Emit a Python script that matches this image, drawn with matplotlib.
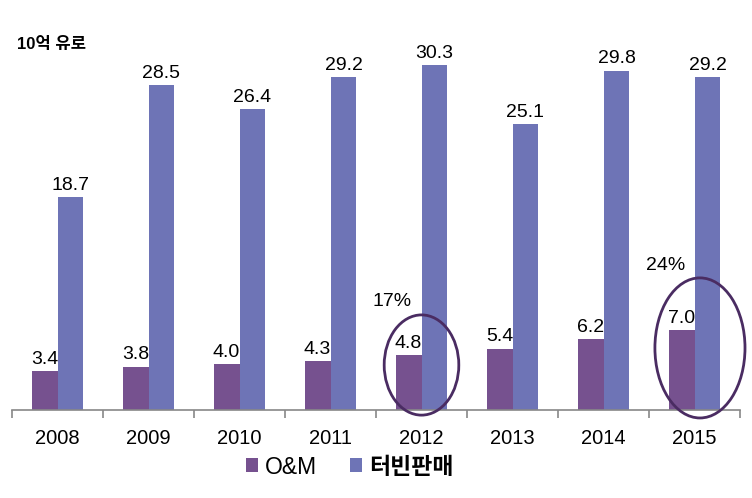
import matplotlib.pyplot as plt
import numpy as np
from matplotlib.patches import Ellipse

years = ['2008', '2009', '2010', '2011', '2012', '2013', '2014', '2015']
om = [3.4, 3.8, 4.0, 4.3, 4.8, 5.4, 6.2, 7.0]
turbine = [18.7, 28.5, 26.4, 29.2, 30.3, 25.1, 29.8, 29.2]
share_labels = ['17%', '24%']
share_idx = [4, 7]

plt.rcParams['font.family'] = ['Liberation Sans', 'Noto Sans CJK KR', 'DejaVu Sans']

om_color = '#76518F'
turb_color = '#6E74B6'
ring_color = '#4A2C62'

fig = plt.figure(figsize=(7.52, 4.98), dpi=100)
ax = fig.add_axes([12 / 752, 88 / 498, 728 / 752, 410 / 498])

x = np.arange(len(years))
w = 0.285
b1 = ax.bar(x - w / 2, om, w, color=om_color, label='O&M')
b2 = ax.bar(x + w / 2, turbine, w, color=turb_color, label='터빈판매')

for xi, v in zip(x, om):
    ax.text(xi - w / 2, v + 0.3, f'{v:.1f}', ha='center', va='bottom', fontsize=14)
for xi, v in zip(x, turbine):
    ax.text(xi + w / 2, v + 0.3, f'{v:.1f}', ha='center', va='bottom', fontsize=14)

# circles around the O&M share highlights
ax.add_patch(Ellipse((4.0, 3.95), 0.82, 8.8, fill=False, edgecolor=ring_color,
                     lw=2, clip_on=False, zorder=5))
ax.add_patch(Ellipse((7.06, 5.45), 0.99, 12.3, fill=False, edgecolor=ring_color,
                     lw=2, clip_on=False, zorder=5))
ax.text(3.68, 9.5, share_labels[0], ha='center', va='center', fontsize=14)
ax.text(6.68, 12.7, share_labels[1], ha='center', va='center', fontsize=14)

ax.set_xlim(-0.5, len(years) - 0.5)
ax.set_ylim(0, 36)
ax.set_xticks(x)
ax.set_xticklabels(years, fontsize=14.5)
ax.set_xticks(np.arange(len(years) + 1) - 0.5, minor=True)
ax.tick_params(axis='x', which='major', length=0, pad=14)
ax.tick_params(axis='x', which='minor', length=6, color='#888888', width=1.2)
ax.set_yticks([])
for s in ['top', 'right', 'left']:
    ax.spines[s].set_visible(False)
ax.spines['bottom'].set_color('#888888')
ax.spines['bottom'].set_linewidth(1.2)

fig.text(17 / 752, 1 - 45 / 498, '10억 유로', fontsize=12, fontweight='bold', va='center')

leg = fig.legend(handles=[b1, b2], loc='center', bbox_to_anchor=(0.465, 1 - 467 / 498),
                 ncol=2, frameon=False, fontsize=16.5, handlelength=0.55, handleheight=0.55,
                 handletextpad=0.3, columnspacing=1.4)
leg.get_texts()[1].set_fontweight('bold')

fig.savefig('out.png', dpi=100)
